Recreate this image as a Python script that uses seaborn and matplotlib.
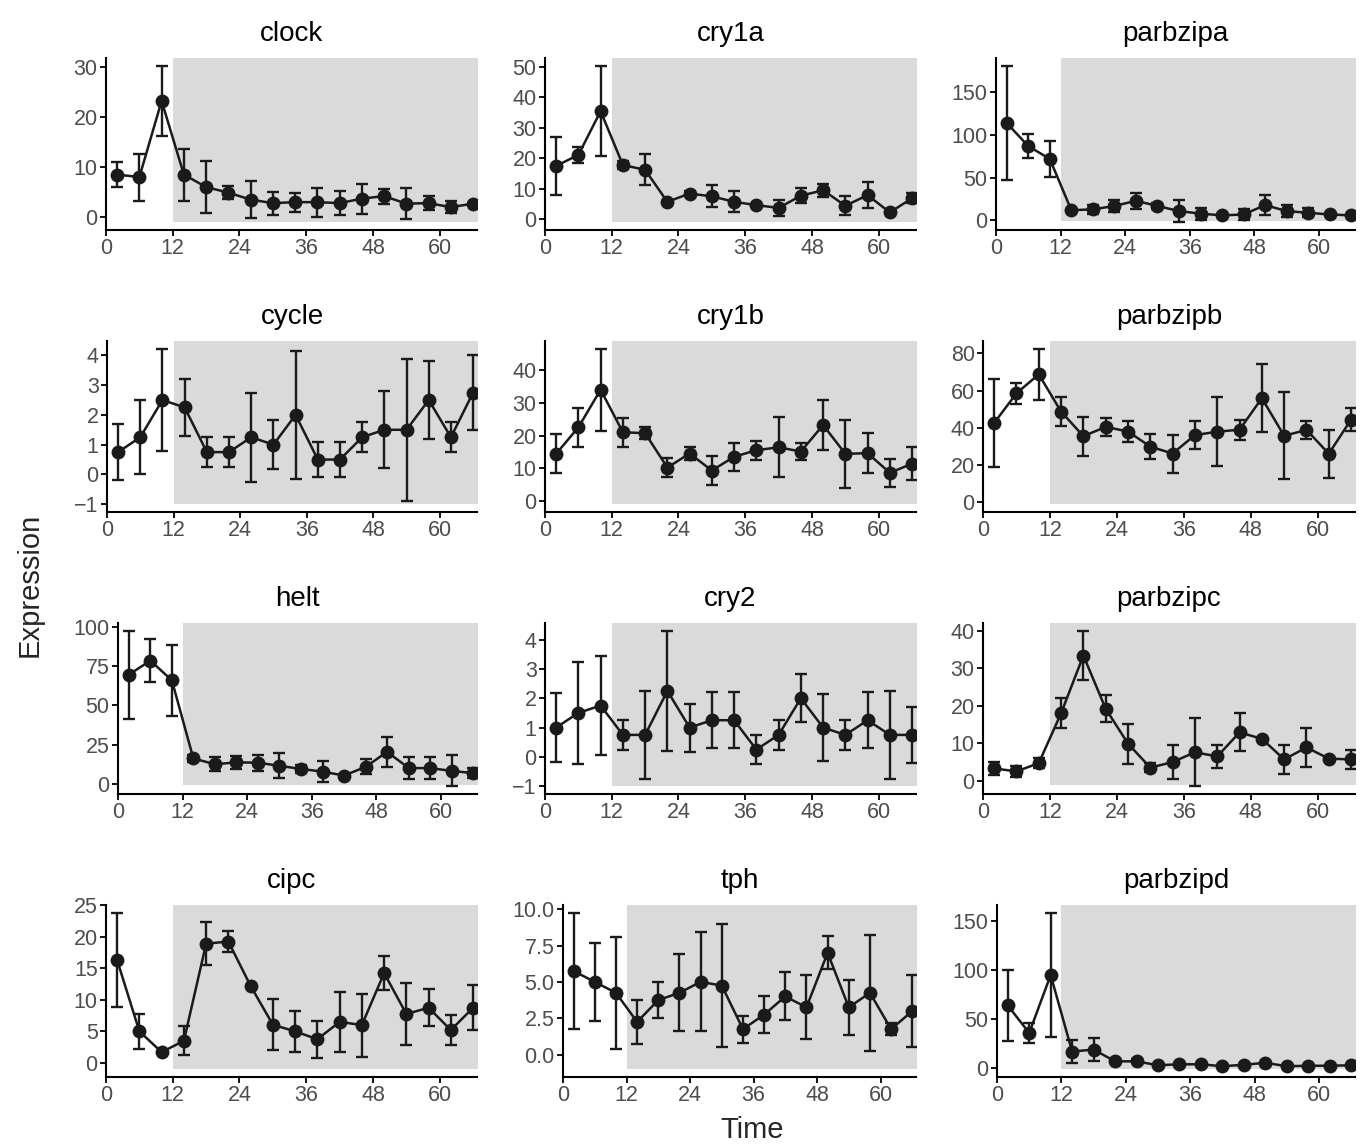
import numpy as np
import pandas as pd
import matplotlib
matplotlib.use("Agg")
import matplotlib.pyplot as plt
import seaborn as sns

# Tiempos de muestreo (horas)
times = [2, 6, 10, 14, 18, 22, 26, 30, 34, 38, 42, 46, 50, 54, 58, 62, 66]

# Medias y errores
clock_mean = [8.5, 8, 23.2, 8.5, 6, 4.9, 3.5, 2.8, 3, 3, 2.8, 3.7, 4.2, 2.7, 2.8, 2, 2.7]
clock_err = [2.5, 4.7, 7, 5.2, 5.2, 1.3, 3.7, 2.3, 1.9, 2.9, 2.4, 3, 1.5, 3.1, 1.4, 1.2, 0]

cry1a_mean = [17.5, 21.1, 35.5, 17.8, 16.2, 5.7, 8.4, 7.5, 5.7, 4.6, 3.7, 7.7, 9.5, 4.4, 7.9, 2.2, 6.9]
cry1a_err = [9.6, 2.6, 14.9, 1.3, 5.1, 0, 0.9, 3.6, 3.4, 0, 2.7, 2.5, 2.2, 3.2, 4.2, 0, 1.7]

parbzipa_mean = [114, 87, 72, 12, 13, 17, 23, 17, 11, 8, 6, 7, 18, 11, 9, 7, 6]
parbzipa_err = [67, 14, 21, 0, 5, 7, 9.5, 3, 13, 7, 0, 6.5, 11.5, 7, 5.5, 0, 0]

cycle_mean = [0.75, 1.25, 2.5, 2.25, 0.75, 0.75, 1.25, 1.0, 2.0, 0.5, 0.5, 1.25, 1.5, 1.5, 2.5, 1.25, 2.75]
cycle_err = [0.95, 1.25, 1.72, 0.95, 0.5, 0.5, 1.5, 0.82, 2.15, 0.58, 0.58, 0.5, 1.3, 2.38, 1.3, 0.5, 1.25]

cry1b_mean = [14.4, 22.5, 34, 21, 20.7, 10.2, 14.5, 9.3, 13.5, 15.5, 16.4, 15.1, 23.2, 14.4, 14.6, 8.6, 11.4]
cry1b_err = [6, 6, 12.5, 4.5, 1.75, 2.85, 1.95, 4.4, 4.25, 2.9, 9.15, 2.55, 7.75, 10.35, 6.05, 4.25, 5.1]

parbzipb_mean = [42.6, 58.5, 68.7, 48.7, 35.5, 40.5, 38, 29.9, 26.2, 36.1, 37.9, 39, 55.9, 35.7, 38.9, 26.1, 44.4]
parbzipb_err = [23.5, 5.5, 13.7, 7.7, 10.4, 4.9, 5.8, 6.6, 10.2, 7.3, 18.6, 5.4, 18.4, 23.3, 4.9, 12.8, 6]

helt_mean = [69.5, 78.5, 66, 16.2, 12.5, 13.7, 13.5, 11.5, 9.5, 7.8, 5.3, 10.8, 20.4, 10.1, 10, 8.3, 6.8]
helt_err = [28, 13.5, 22.5, 2.3, 4.5, 4.3, 5, 8, 2.5, 6.8, 0, 4.8, 9.7, 6.7, 7, 9.8, 3]

cry2_mean = [1.0, 1.5, 1.75, 0.75, 0.75, 2.25, 1.0, 1.25, 1.25, 0.25, 0.75, 2.0, 1.0, 0.75, 1.25, 0.75, 0.75]
cry2_err = [1.17, 1.73, 1.7, 0.5, 1.5, 2.05, 0.82, 0.95, 0.95, 0.5, 0.5, 0.82, 1.15, 0.5, 0.95, 1.5, 0.95]

parbzipc_mean = [3.3, 2.5, 4.7, 18, 33.4, 19.2, 9.9, 3.5, 5, 7.6, 6.5, 12.9, 11.2, 5.7, 8.9, 5.9, 5.7]
parbzipc_err = [1.7, 1.5, 1.35, 4, 6.6, 3.65, 5.3, 1.2, 4.6, 9.05, 3, 5.05, 0, 3.95, 5.1, 0, 2.45]

cipc_mean = [16.3, 5.0, 1.7, 3.5, 18.9, 19.25, 12.2, 6.05, 5.0, 3.75, 6.5, 6.0, 14.25, 7.75, 8.75, 5.2, 8.75]
cipc_err = [7.5, 2.8, 0, 2.3, 3.4, 1.65, 0, 4.05, 3.2, 2.95, 4.8, 5, 2.75, 4.95, 2.95, 2.4, 3.55]

tph_mean = [5.75, 5.0, 4.25, 2.25, 3.75, 4.25, 5.0, 4.75, 1.75, 2.75, 4.0, 3.25, 7.0, 3.25, 4.25, 1.75, 3.0]
tph_err = [4.0, 2.7, 3.85, 1.5, 1.25, 2.65, 3.4, 4.2, 0.93, 1.25, 1.65, 2.2, 1.13, 1.9, 4.0, 0.4, 2.45]

parbzipd_mean = [64, 36, 95, 17, 19, 7, 7, 3, 4, 4, 2, 3.5, 5.5, 2, 2.5, 2.5, 3]
parbzipd_err = [36, 10, 63.5, 11.5, 12, 0, 2, 0, 1, 0, 0, 0, 0, 0, 0, 0, 0]

genes = ["clock", "cry1a", "parbzipa",
         "cycle", "cry1b", "parbzipb",
         "helt", "cry2", "parbzipc",
         "cipc", "tph", "parbzipd"]
means = [clock_mean, cry1a_mean, parbzipa_mean,
         cycle_mean, cry1b_mean, parbzipb_mean,
         helt_mean, cry2_mean, parbzipc_mean,
         cipc_mean, tph_mean, parbzipd_mean]
errs = [clock_err, cry1a_err, parbzipa_err,
        cycle_err, cry1b_err, parbzipb_err,
        helt_err, cry2_err, parbzipc_err,
        cipc_err, tph_err, parbzipd_err]
# paso de las marcas del eje y en cada panel
y_steps = [10, 10, 50, 1, 10, 20, 25, 1, 10, 5, 2.5, 50]

sns.set_theme(style="ticks")
plt.rcParams['font.family'] = ['Liberation Sans', 'DejaVu Sans']

W, H = 1363, 1148
fig = plt.figure(figsize=(W / 100, H / 100), dpi=100)

# posiciones de los paneles en pixeles
col_right = [477, 916, 1355]
panel_left = [[106, 545, 996],
              [107, 545, 983],
              [118, 545, 983],
              [106, 563, 997]]
row_top = [58, 341, 623, 905]
row_bottom = [230, 512, 794, 1077]

shade_color = "#dadada"
ink = "#1a1a1a"
x_max = 66.7

for k, gene in enumerate(genes):
    r, c = divmod(k, 3)
    l = panel_left[r][c]
    ax = fig.add_axes([l / W, 1 - row_bottom[r] / H,
                       (col_right[c] - l) / W, (row_bottom[r] - row_top[r]) / H])

    df = pd.DataFrame({"time": times, "mean": means[k], "err": errs[k]})
    lo = df["mean"] - df["err"]
    hi = df["mean"] + df["err"]
    y0 = min(lo.min(), -1)
    y1 = hi.max()
    pad = 0.05 * (y1 - y0)
    ylim = (y0 - pad, y1 + pad)

    # zona sombreada (oscuridad)
    ax.fill_between([12, x_max + 1], -1, ylim[1] + 10, color=shade_color, lw=0, zorder=0)

    ax.errorbar(df["time"], df["mean"], yerr=df["err"], fmt="none",
                ecolor=ink, elinewidth=1.7, capsize=4, capthick=1.7, zorder=2)
    sns.lineplot(data=df, x="time", y="mean", ax=ax, color=ink, lw=1.8,
                 marker="o", markersize=10, markeredgewidth=0, zorder=3)

    ax.set_xlim(0, x_max)
    ax.set_ylim(*ylim)
    ax.set_xticks([0, 12, 24, 36, 48, 60])
    step = y_steps[k]
    ticks = np.arange(np.ceil(ylim[0] / step) * step, ylim[1] + 1e-9, step) + 0.0
    ax.set_yticks(ticks)
    if step == 2.5:
        ax.set_yticklabels([f"{t + 0.0:.1f}" for t in ticks])
    else:
        ax.set_yticklabels([f"{t + 0.0:g}".replace("-", "\u2212") for t in ticks])

    ax.set_title(gene, fontsize=20, pad=12, color="black")
    ax.set_xlabel("")
    ax.set_ylabel("")
    sns.despine(ax=ax)
    for side in ["left", "bottom"]:
        ax.spines[side].set_linewidth(1.5)
        ax.spines[side].set_color("black")
    ax.tick_params(axis="both", labelsize=15.5, labelcolor="#4d4d4d",
                   length=4, width=1.3, color="black", pad=2)
    ax.set_facecolor("white")

fig.text(30 / W, 1 - 585 / H, "Expression", rotation=90, ha="center", va="center", fontsize=21)
fig.text(752 / W, 1 - 1130 / H, "Time", ha="center", va="center", fontsize=21)

fig.savefig("out.png", dpi=100, facecolor="white")
